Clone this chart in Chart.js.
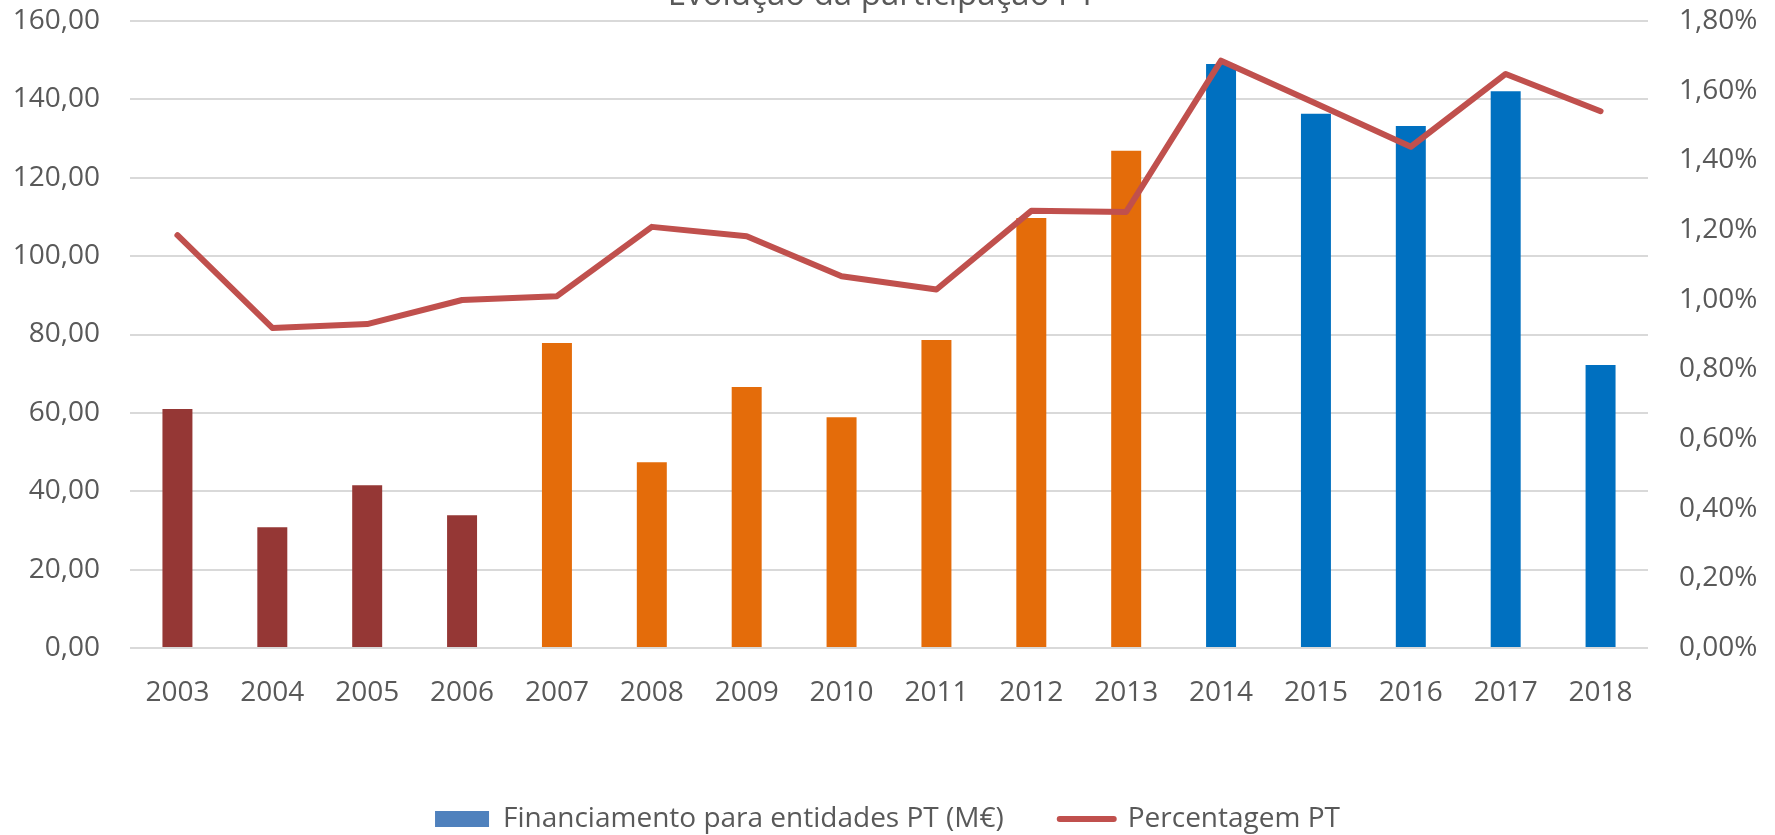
<!DOCTYPE html>
<html>
<head>
<meta charset="utf-8">
<script src="https://cdn.jsdelivr.net/npm/chart.js@4.4.0/dist/chart.umd.min.js"></script>
<style>
html,body{margin:0;padding:0;background:#ffffff;}
#wrap{position:relative;width:1775px;height:835px;overflow:hidden;}
</style>
</head>
<body>
<div id="wrap"><canvas id="c" width="1775" height="835"></canvas></div>
<script>
// ---- data ----
const chartTitle = 'Evolução da participação PT';
const years = ['2003','2004','2005','2006','2007','2008','2009','2010','2011','2012','2013','2014','2015','2016','2017','2018'];
const financiamento = [61.0, 30.8, 41.5, 33.9, 77.8, 47.4, 66.6, 58.9, 78.6, 109.7, 126.9, 149.0, 136.3, 133.2, 142.1, 72.2];
const percentagem = [1.185, 0.919, 0.930, 0.999, 1.010, 1.209, 1.182, 1.067, 1.029, 1.255, 1.252, 1.686, 1.563, 1.439, 1.648, 1.541];
const seriesNames = ['Financiamento para entidades PT (M€)', 'Percentagem PT'];
const leftTicks = {min: 0, max: 160, step: 20};
const rightTicks = {min: 0, max: 1.8, step: 0.2};

// ---- styles ----
const FONT = '"Open Sans", "Noto Sans", sans-serif';
const FS = 28;
const TEXT = '#595959';
function barColor(i) {
  if (i < 4) return '#953735';
  if (i < 11) return '#E46C0A';
  return '#0070C0';
}
const barColors = years.map((_, i) => barColor(i));
const fmtComma = (v) => Number(v).toFixed(2).replace('.', ',');

const titlePlugin = {
  id: 'partialTitle',
  afterDraw(chart) {
    const c = chart.ctx;
    c.save();
    c.font = '33px ' + FONT;
    c.fillStyle = TEXT;
    c.textAlign = 'center';
    c.textBaseline = 'alphabetic';
    c.fillText(chartTitle, (chart.chartArea.left + chart.chartArea.right) / 2 - 7, 5);
    c.restore();
  }
};
const bgPlugin = {
  id: 'bg',
  beforeDraw(chart) {
    const c = chart.ctx;
    c.save();
    c.fillStyle = '#ffffff';
    c.fillRect(0, 0, chart.width, chart.height);
    c.restore();
  }
};

new Chart(document.getElementById('c'), {
  type: 'bar',
  data: {
    labels: years,
    datasets: [
      {
        type: 'bar',
        label: seriesNames[0],
        data: financiamento,
        yAxisID: 'y',
        backgroundColor: barColors,
        borderWidth: 0,
        barPercentage: 0.316,
        categoryPercentage: 1,
        order: 2
      },
      {
        type: 'line',
        label: seriesNames[1],
        data: percentagem,
        yAxisID: 'yPct',
        borderColor: '#C0504D',
        backgroundColor: '#C0504D',
        borderWidth: 6,
        pointRadius: 0,
        pointHoverRadius: 0,
        tension: 0,
        borderCapStyle: 'round',
        borderJoinStyle: 'round',
        order: 1
      }
    ]
  },
  options: {
    responsive: false,
    animation: false,
    devicePixelRatio: 1,
    layout: {padding: {top: 21, bottom: -8, left: 0, right: 0}},
    plugins: {
      title: {display: false},
      tooltip: {enabled: false},
      legend: {
        display: true,
        position: 'bottom',
        labels: {
          usePointStyle: true,
          pointStyleWidth: 54,
          boxHeight: 16,
          padding: 56,
          color: TEXT,
          font: {family: FONT, size: FS},
          generateLabels: (chart) => [
            {text: seriesNames[0], fillStyle: '#4F81BD', strokeStyle: '#4F81BD', lineWidth: 0, pointStyle: 'rect', datasetIndex: 0, hidden: false, fontColor: TEXT},
            {text: seriesNames[1], fillStyle: '#C0504D', strokeStyle: '#C0504D', lineWidth: 6, lineCap: 'round', pointStyle: 'line', datasetIndex: 1, hidden: false, fontColor: TEXT}
          ]
        }
      }
    },
    scales: {
      x: {
        grid: {display: false},
        border: {display: false},
        ticks: {color: TEXT, font: {family: FONT, size: FS}, padding: 20, maxRotation: 0, autoSkip: false},
        afterFit: (s) => { s.height = 101; }
      },
      y: {
        position: 'left',
        min: leftTicks.min,
        max: leftTicks.max,
        ticks: {stepSize: leftTicks.step, color: TEXT, font: {family: FONT, size: FS}, padding: 30, callback: (v) => fmtComma(v)},
        grid: {color: '#D9D9D9', lineWidth: 2, drawTicks: false},
        border: {display: false},
        afterFit: (s) => { s.width = 130; s.paddingTop = 0; s.paddingBottom = 0; }
      },
      yPct: {
        position: 'right',
        min: rightTicks.min,
        max: rightTicks.max,
        ticks: {stepSize: rightTicks.step, color: TEXT, font: {family: FONT, size: FS}, padding: 31, callback: (v) => fmtComma(v) + '%'},
        grid: {display: false, drawTicks: false},
        border: {display: false},
        afterFit: (s) => { s.width = 127; s.paddingTop = 0; s.paddingBottom = 0; }
      }
    }
  },
  plugins: [bgPlugin, titlePlugin]
});
</script>
</body>
</html>
